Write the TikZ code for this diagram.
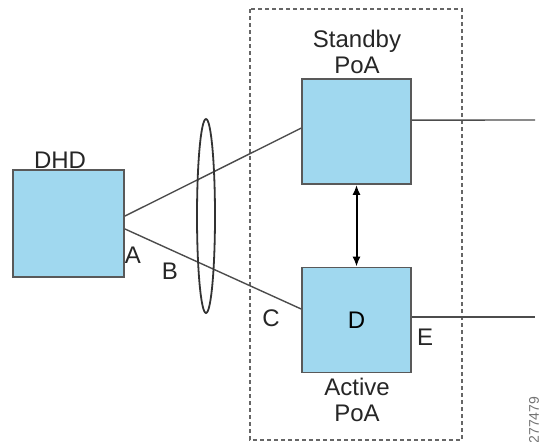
\documentclass[tikz,border=0pt]{standalone}
\usepackage{fontspec}
\setmainfont{Liberation Sans}
\usetikzlibrary{arrows.meta}

\tikzset{
  poabox/.style={draw=black!65, fill=cyan!30!blue!10!white, line width=0.8pt, minimum width=54.5pt, minimum height=52.5pt, inner sep=0pt},
  link/.style={draw=black!70, line width=0.7pt},
  lbl/.style={font=\fontsize{12}{13}\selectfont, text=black!85, inner sep=0pt, align=center}
}
\definecolor{boxblue}{RGB}{160,216,239}

\begin{document}
\begin{tikzpicture}[x=0.5pt, y=-0.5pt]
  \useasboundingbox (0,0) rectangle (541,441);
  % chassis boundary
  \draw[black!60, line width=0.6pt, dash pattern=on 2pt off 1.5pt] (250,9) rectangle (462,440);
  % boxes
  \node[poabox, fill=boxblue, minimum width=55.5pt, minimum height=53.5pt] (dhd) at (68.5,223.5) {};
  \node[poabox, fill=boxblue] (standby) at (356.5,131.5) {};
  \node[poabox, fill=boxblue] (active) at (356.5,320) {\fontsize{12}{13}\selectfont D};
  \node[lbl] (dhdlbl) at (60,160) {DHD};
  \node[lbl] (stdlbl) at (357,52) {Standby\\PoA};
  \node[lbl] (actlbl) at (357,400) {Active\\PoA};
  \node[lbl] (a) at (133,255) {A};
  \node[lbl] (b) at (170,271) {B};
  \node[lbl] (c) at (271,318) {C};
  \node[lbl] (e) at (425,337) {E};
  \coordinate (out1) at (535,120);
  \coordinate (out2) at (535,317);
  % links
  \draw[link] ([yshift=3.7pt]dhd.east) -- ([yshift=1.7pt]standby.west);
  \draw[link] ([yshift=-2.7pt]dhd.east) -- ([yshift=5.5pt]active.west);
  \draw[link] ([yshift=5.7pt]standby.east) -- (out1);
  \draw[link] ([yshift=1.5pt]active.east) -- (out2);
  % bundle
  \draw[black!80, line width=0.9pt] (206,216) ellipse (4.5pt and 48.5pt);
  \draw[{Latex[length=5pt,width=4pt]}-{Latex[length=5pt,width=4pt]}, line width=1pt] (standby.south) -- (active.north);
  \node[lbl, font=\fontsize{7}{8}\selectfont, text=black!55, rotate=90] (fig) at (534,420) {277479};
\end{tikzpicture}
\end{document}
